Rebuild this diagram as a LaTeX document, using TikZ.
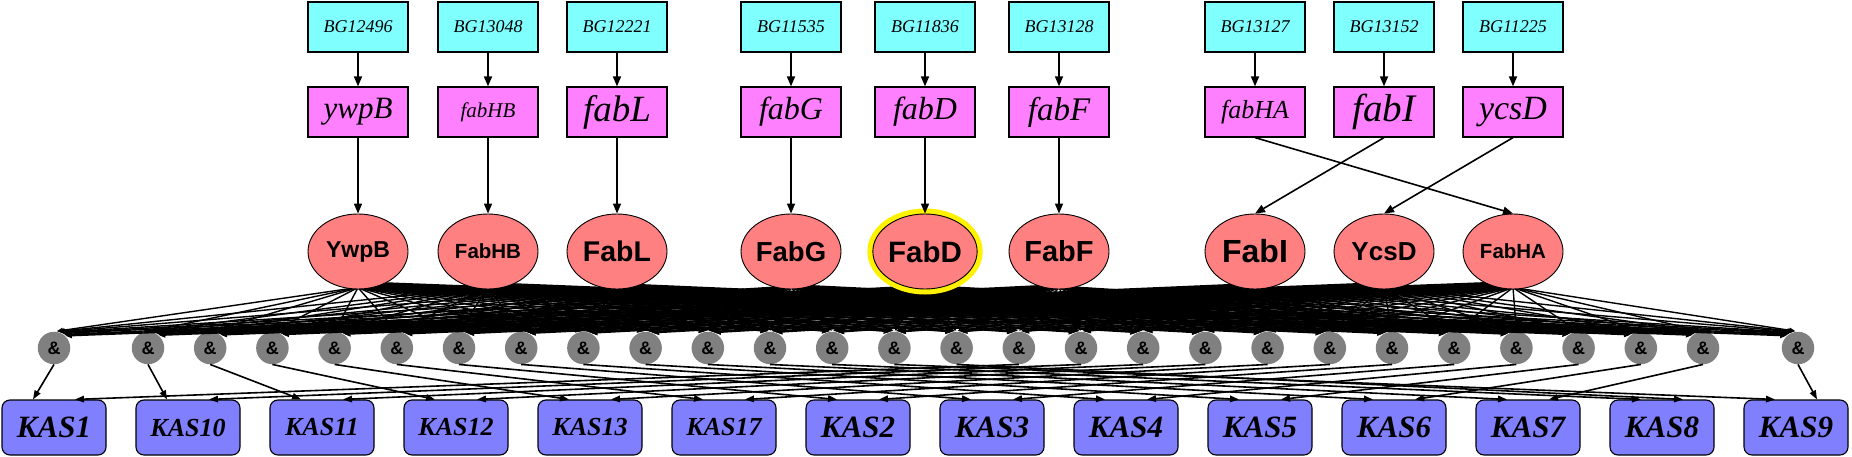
\documentclass[tikz,border=0pt]{standalone}
\usepackage{fontspec}
\setmainfont{Liberation Serif}
\newfontfamily\arialfont{Liberation Sans}
\usetikzlibrary{arrows.meta,shapes.geometric,calc}
\definecolor{bgcyan}{RGB}{128,255,255}
\definecolor{genepink}{RGB}{255,128,255}
\definecolor{protred}{RGB}{255,128,128}
\definecolor{andgray}{RGB}{128,128,128}
\definecolor{kasblue}{RGB}{128,128,255}
\newcommand{\fs}[1]{\fontsize{#1}{#1}\selectfont}
\begin{document}
\begin{tikzpicture}[x=1pt,y=-1pt,
  bgbox/.style={draw, line width=1.2pt, fill=bgcyan, minimum width=100pt, minimum height=50pt, inner sep=0pt, font=\itshape\fs{18}},
  genebox/.style={draw, line width=1.2pt, fill=genepink, minimum width=100pt, minimum height=50pt, inner sep=0pt},
  prot/.style={ellipse, draw=black, line width=0.9pt, fill=protred, minimum width=100pt, minimum height=75pt, inner sep=0pt},
  andnode/.style={circle, fill=andgray, minimum size=32.5pt, inner sep=0pt, font=\arialfont\bfseries\fs{18}},
  kas/.style={draw, rounded corners=8pt, line width=1.1pt, fill=kasblue, minimum width=104pt, minimum height=55pt, inner sep=0pt},
  arr/.style={-{Triangle[length=10pt,width=8pt]}, line width=1.6pt},
  web/.style={-{Triangle[length=6pt,width=5pt]}, line width=1.4pt},
  low/.style={-{Triangle[length=9pt,width=6.5pt]}, line width=1.6pt},
]
\fill[white] (0,0) rectangle (1852,457);
\useasboundingbox (0,0) rectangle (1852,457);

% BG boxes
\node[bgbox] (b1) at (358,27) {BG12496};
\node[bgbox] (b2) at (488,27) {BG13048};
\node[bgbox] (b3) at (617,27) {BG12221};
\node[bgbox] (b4) at (791,27) {BG11535};
\node[bgbox] (b5) at (925,27) {BG11836};
\node[bgbox] (b6) at (1059,27) {BG13128};
\node[bgbox] (b7) at (1255,27) {BG13127};
\node[bgbox] (b8) at (1384,27) {BG13152};
\node[bgbox] (b9) at (1513,27) {BG11225};

% gene boxes
\node[genebox, font=\itshape\fs{31}] (g1) at (358,112) {ywpB};
\node[genebox, font=\itshape\fs{21}] (g2) at (488,112) {fabHB};
\node[genebox, font=\itshape\fs{37}] (g3) at (617,112) {fabL};
\node[genebox, font=\itshape\fs{32}] (g4) at (791,112) {fabG};
\node[genebox, font=\itshape\fs{32}] (g5) at (925,112) {fabD};
\node[genebox, font=\itshape\fs{33}] (g6) at (1059,112) {fabF};
\node[genebox, font=\itshape\fs{26}] (g7) at (1255,112) {fabHA};
\node[genebox, font=\itshape\fs{39}] (g8) at (1384,112) {fabI};
\node[genebox, font=\itshape\fs{34}] (g9) at (1513,112) {ycsD};

% AND nodes
\node[andnode] (a1) at (54,348) {\&};
\foreach \i in {2,...,27} {
  \node[andnode] (a\i) at ({148+62.2*(\i-2)},348) {\&};
}
\node[andnode] (a28) at (1798,348) {\&};

% KAS nodes
\foreach \lab/\s [count=\i] in {KAS1/31,KAS10/26,KAS11/26,KAS12/26,KAS13/26,KAS17/26,KAS2/31,KAS3/31,KAS4/31,KAS5/31,KAS6/31,KAS7/31,KAS8/31,KAS9/31} {
  \node[kas, font=\bfseries\itshape\fs{\s}] (k\i) at ({54+134*(\i-1)},427.5) {\lab};
}

% protein -> AND (all pairs), drawn under the protein nodes
\foreach \p/\px in {1/358,2/488,3/617,4/791,5/925,6/1059,7/1255,8/1384,9/1513} {
  \coordinate (pc\p) at (\px,251.5);
  \foreach \a in {1,...,28} {
    \pgfmathsetmacro\ax{\a==1 ? 54 : (\a==28 ? 1798 : 148+62.2*(\a-2))}
    \pgfmathsetmacro\ta{270+(\ax-\px)/1800*40}
    \pgfmathsetmacro\ha{90+(\ax-\px)/1800*55}
    \draw[web] ($(pc\p)+(\ta:49.5pt and 37pt)$) -- ($(a\a)+(\ha:17pt)$);
  }
}

% proteins
\node[prot, font=\arialfont\bfseries\fs{23}] (p1) at (358,251.5) {YwpB};
\node[prot, font=\arialfont\bfseries\fs{20.5}] (p2) at (488,251.5) {FabHB};
\node[prot, font=\arialfont\bfseries\fs{28.5}] (p3) at (617,251.5) {FabL};
\node[prot, font=\arialfont\bfseries\fs{27.5}] (p4) at (791,251.5) {FabG};
\node[prot, font=\arialfont\bfseries\fs{29.5}, preaction={draw=yellow, line width=11pt}] (p5) at (925,251.5) {FabD};
\node[prot, font=\arialfont\bfseries\fs{29}] (p6) at (1059,251.5) {FabF};
\node[prot, font=\arialfont\bfseries\fs{32}] (p7) at (1255,251.5) {FabI};
\node[prot, font=\arialfont\bfseries\fs{26}] (p8) at (1384,251.5) {YcsD};
\node[prot, font=\arialfont\bfseries\fs{20.5}] (p9) at (1513,251.5) {FabHA};

% BG -> gene
\foreach \i in {1,...,9} { \draw[arr] (b\i) -- (g\i); }
% gene -> protein
\foreach \i in {1,...,6} { \draw[arr] (g\i) -- (p\i); }
\draw[arr] (g7.south) -- (p9.north);
\draw[arr] (g8.south) -- (p7.north);
\draw[arr] (g9.south) -- (p8.north);

% AND -> KAS
\foreach \i in {1,...,14} { \draw[low] (a\i.south) -- ($(k\i.north)+(-21,0)$); }
\foreach \a/\k in {16/1,17/2,18/3,19/4,20/5,21/6,22/7,23/8,24/9,25/10,26/11,27/12,15/13,28/14} {
  \draw[low] (a\a.south) -- ($(k\k.north)+(21,0)$);
}
\end{tikzpicture}
\end{document}
